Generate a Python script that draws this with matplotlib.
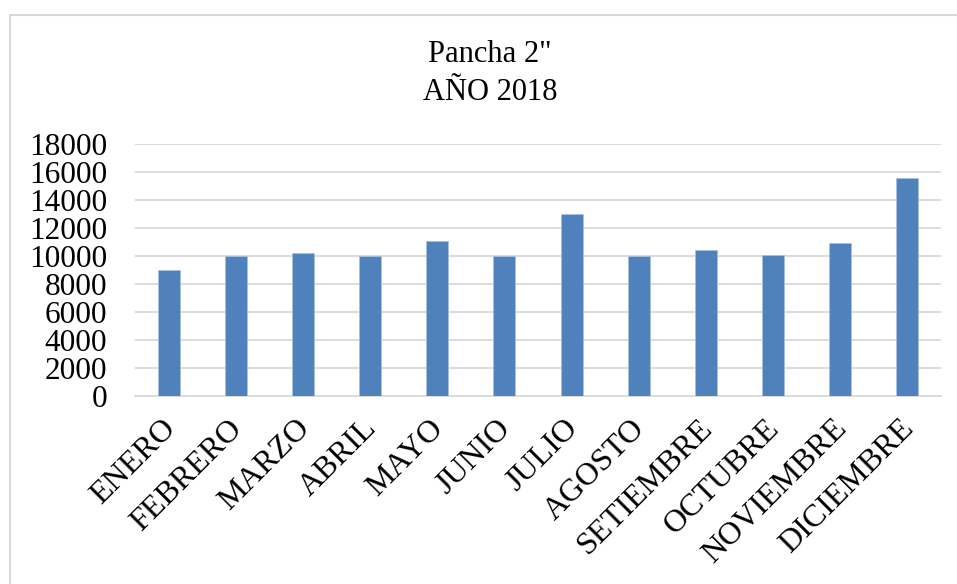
import matplotlib
matplotlib.use("Agg")
import matplotlib.pyplot as plt
import matplotlib.transforms as mtransforms
from matplotlib.lines import Line2D

# monthly values, Pancha 2" 2018
meses = ["ENERO", "FEBRERO", "MARZO", "ABRIL", "MAYO", "JUNIO", "JULIO",
         "AGOSTO", "SETIEMBRE", "OCTUBRE", "NOVIEMBRE", "DICIEMBRE"]
valores = [9000, 10000, 10200, 10000, 11100, 10000, 13000,
           10000, 10400, 10100, 10900, 15550]
yticks = [0, 2000, 4000, 6000, 8000, 10000, 12000, 14000, 16000, 18000]

plt.rcParams['font.family'] = ['Liberation Serif', 'DejaVu Serif']

W, H = 957, 584
fig = plt.figure(figsize=(W / 100, H / 100), dpi=100)

# chart frame: only top and left edges show in the reference
fx, fy = 10 / W, 1 - 15 / H
fig.add_artist(Line2D([fx, fx, 1.0], [0.0, fy, fy], transform=fig.transFigure,
                      color='#D9D9D9', linewidth=1.5))

ax = fig.add_axes([135 / W, 1 - 396 / H, (941 - 135) / W, (396 - 144) / H])
x = range(len(meses))
ax.bar(x, valores, width=0.33, color='#4F81BD', edgecolor='#A9C1E0', linewidth=0.6, zorder=3)

ax.set_xlim(-0.5, len(meses) - 0.5)
ax.set_ylim(0, 18000)
ax.set_yticks(yticks)
ax.set_yticklabels([str(v) for v in yticks], fontsize=22.5)
ax.yaxis.grid(True, color='#D9D9D9', linewidth=1.3, zorder=0)
ax.set_axisbelow(True)
for s in ['top', 'right', 'left']:
    ax.spines[s].set_visible(False)
ax.spines['bottom'].set_color('#D9D9D9')
ax.spines['bottom'].set_linewidth(1.3)
ax.tick_params(axis='both', length=0)
ax.tick_params(axis='y', pad=20)

ax.set_xticks(list(x))
ax.set_xticklabels(meses, fontsize=23, rotation=45, ha='right', va='top',
                   rotation_mode='anchor')
ax.tick_params(axis='x', pad=13)
# nudge labels a bit to the left like the reference
off = mtransforms.ScaledTranslation(-8 / 100, 0, fig.dpi_scale_trans)
for lbl in ax.get_xticklabels():
    lbl.set_transform(lbl.get_transform() + off)

fig.text(490 / W, 1 - 55 / H, 'Pancha 2"', ha='center', va='center', fontsize=22)
fig.text(490 / W, 1 - 92 / H, 'AÑO 2018', ha='center', va='center', fontsize=22)

fig.savefig('out.png', dpi=100)
